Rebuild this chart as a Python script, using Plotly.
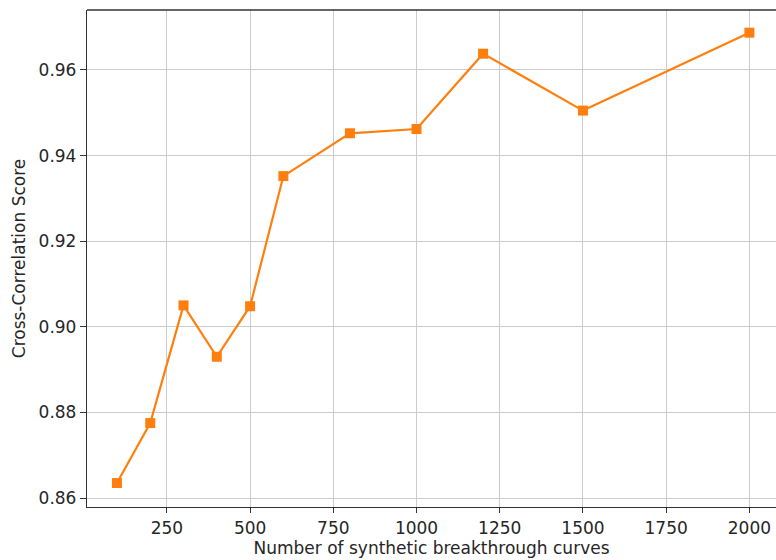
import plotly.graph_objects as go

n_curves = [100, 200, 300, 400, 500, 600, 800, 1000, 1200, 1500, 2000]
cc_score = [0.8635, 0.8775, 0.9050, 0.8930, 0.9048, 0.9352, 0.9452, 0.9462, 0.9638, 0.9505, 0.9687]
x_ticks = [250, 500, 750, 1000, 1250, 1500, 1750, 2000]
y_ticks = [0.86, 0.88, 0.90, 0.92, 0.94, 0.96]

fig = go.Figure()
fig.add_trace(go.Scatter(
    x=n_curves, y=cc_score, mode="lines+markers",
    line=dict(color="#ff7f0e", width=2.2),
    marker=dict(symbol="square", size=10, color="#ff7f0e"),
    showlegend=False,
))

font = dict(family="DejaVu Sans", size=17, color="#262626")
fig.update_layout(
    width=776, height=560,
    margin=dict(l=87, r=0, t=10, b=53),
    paper_bgcolor="white", plot_bgcolor="white",
    font=font,
)
fig.update_xaxes(
    range=[10, 2080], tickvals=x_ticks, ticktext=[str(v) for v in x_ticks],
    showgrid=True, gridcolor="#cccccc", gridwidth=1.3,
    showline=True, linecolor="#333333", linewidth=1.3, mirror=False,
    ticks="outside", ticklen=5, tickwidth=1.2, tickcolor="#333333",
    zeroline=False,
    title=dict(text="Number of synthetic breakthrough curves", standoff=4, font=font),
)
fig.update_yaxes(
    range=[0.8579, 0.974], tickvals=y_ticks, ticktext=[f"{v:.2f}" for v in y_ticks],
    showgrid=True, gridcolor="#cccccc", gridwidth=1.3,
    showline=True, linecolor="#333333", linewidth=1.3,
    ticks="outside", ticklen=6, tickwidth=1.2, tickcolor="#333333",
    zeroline=False,
    title=dict(text="Cross-Correlation Score", standoff=8, font=font),
)
# top spine
fig.add_shape(type="line", xref="paper", yref="paper", x0=0, x1=1, y0=1, y1=1,
              line=dict(color="#333333", width=1.3))

fig.write_html("out.html", config={"displayModeBar": False},
               post_script="document.body.style.margin='0';document.body.style.overflow='hidden';")
